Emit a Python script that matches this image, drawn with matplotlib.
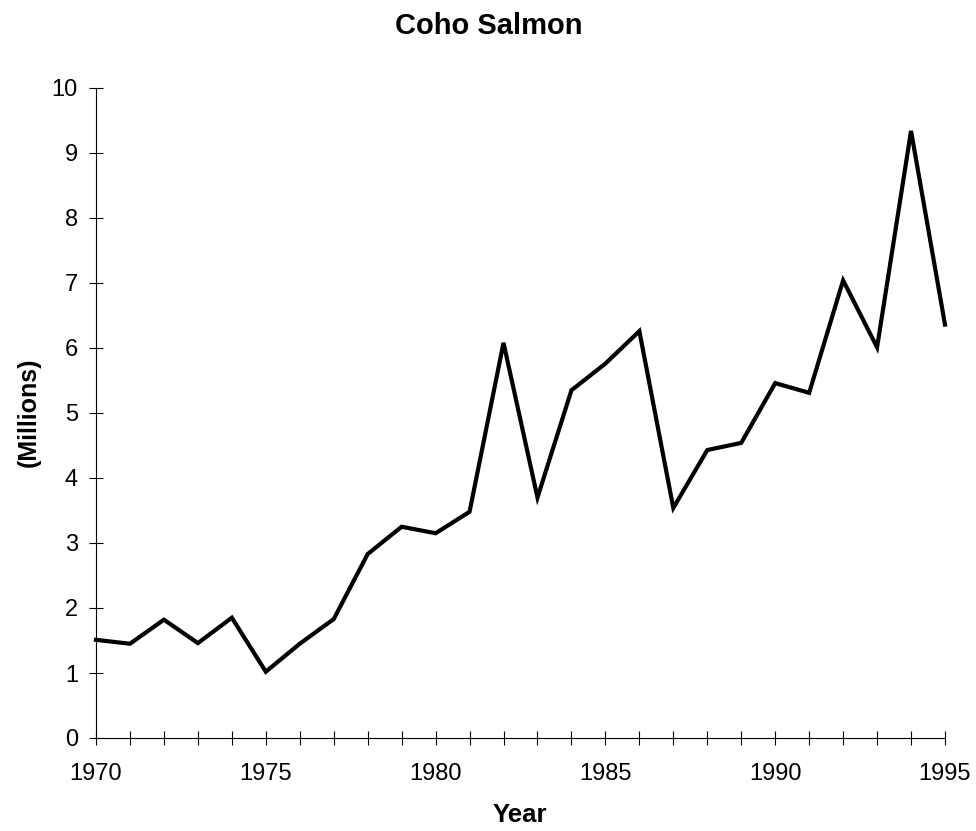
import numpy
import matplotlib
matplotlib.use("Agg")
import matplotlib.pyplot as plt

plt.rcParams["font.family"] = ["Liberation Sans", "DejaVu Sans"]

years = list(range(1970, 1996))
coho = [1.51, 1.45, 1.82, 1.46, 1.85, 1.02, 1.45, 1.83, 2.83, 3.25,
        3.15, 3.48, 6.08, 3.70, 5.35, 5.76, 6.26, 3.54, 4.43, 4.54,
        5.46, 5.31, 7.04, 6.01, 9.34, 6.36]

W, H = 976, 831
fig = plt.figure(figsize=(W / 100, H / 100), dpi=100)
ax = fig.add_axes([96 / W, 1 - 738 / H, (945 - 96) / W, (738 - 88) / H])

ax.plot(years, coho, color="black", lw=3.0, solid_joinstyle="miter",
        clip_on=False)

ax.set_xlim(1970, 1995)
ax.set_ylim(0, 10)
ax.set_xticks(range(1970, 1996, 5))
ax.set_xticks(years, minor=True)
ax.set_yticks(range(0, 11))

for s in ("top", "right"):
    ax.spines[s].set_visible(False)
for s in ("left", "bottom"):
    ax.spines[s].set_linewidth(0.8)

ax.tick_params(axis="both", which="both", direction="inout", length=10,
               width=0.8, labelsize=17)
ax.tick_params(axis="x", which="both", pad=13)
ax.tick_params(axis="y", which="both", pad=8)

# titles placed in figure coordinates
fig.text(489 / W, 1 - 26 / H, "Coho Salmon", fontsize=21, fontweight="bold",
         ha="center", va="center")
fig.text(520 / W, 1 - 815 / H, "Year", fontsize=18.5, fontweight="bold",
         ha="center", va="center")
fig.text(29 / W, 1 - 412 / H, "(Millions)", fontsize=18, fontweight="bold",
         ha="center", va="center", rotation=90)

fig.savefig("out.png", dpi=100)
